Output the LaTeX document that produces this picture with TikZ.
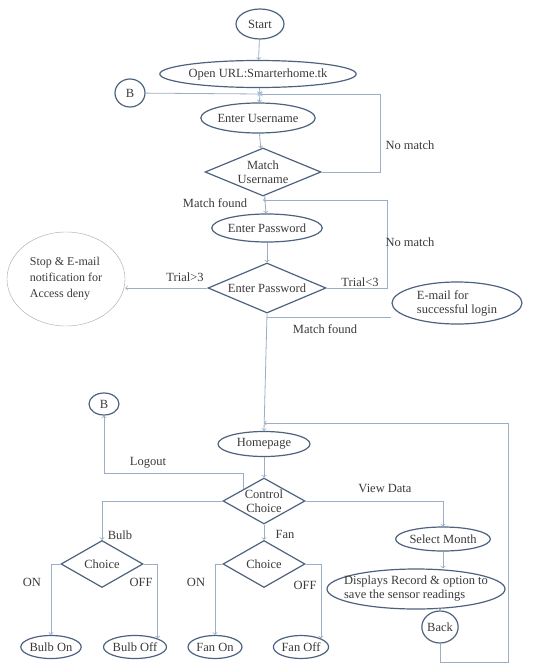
\documentclass[tikz,border=0pt]{standalone}
\usepackage{fontspec}
\setmainfont{Liberation Serif}
\usetikzlibrary{shapes.geometric}
\definecolor{lineblue}{HTML}{9AAEC6}
\definecolor{edgeblue}{HTML}{4D627E}
\definecolor{txtgray}{HTML}{3A3A3A}

\begin{document}
\begin{tikzpicture}[x=1pt,y=-1pt,
  oval/.style={ellipse,draw=edgeblue,line width=1.2pt,inner sep=0pt,text=txtgray,align=left,font=\fontsize{12.5}{14}\selectfont},
  dec/.style={diamond,draw=edgeblue,line width=1.2pt,inner sep=0pt,text=txtgray,align=center,font=\fontsize{12.5}{14}\selectfont},
  flow/.style={draw=lineblue,line width=0.8pt,->},
  lbl/.style={text=txtgray,font=\fontsize{12.5}{14}\selectfont}]

\useasboundingbox (0,0) rectangle (537,664);

\coordinate (j1) at (260,94);
\coordinate (nm1) at (380,94);
\coordinate (j2) at (263,200);
\coordinate (nm2) at (387,200);
\coordinate (j3) at (267,317);
\coordinate (j4) at (264,423);
\coordinate (lg) at (104,473);
\coordinate (r1) at (508,662);
\coordinate (r2) at (508,423);

\node[oval,minimum width=48,minimum height=30] (start) at (260,24) {Start};
\node[oval,minimum width=160,minimum height=27] (url) at (258,74) {Open URL:Smarterhome.tk};
\node[oval,minimum width=30,minimum height=28] (b1) at (130,93) {B};
\node[oval,minimum width=110,minimum height=30] (user) at (258,118) {Enter Username};
\node[dec,minimum width=116,minimum height=48,shape aspect=2.4] (mu) at (263,172) {Match\\Username};
\node[oval,minimum width=110,minimum height=28] (pw) at (267,228) {Enter Password};
\node[dec,minimum width=118,minimum height=50,shape aspect=2.4] (mp) at (267,288) {Enter Password};
\node[oval,draw=gray!70,line width=0.4pt,minimum width=118,minimum height=94,font=\fontsize{12}{16}\selectfont] (stop) at (66,279) {Stop \& E-mail\\notification for\\Access deny};
\node[oval,minimum width=130,minimum height=42] (mail) at (457,303) {E-mail for\\successful login};

\node[oval,minimum width=30,minimum height=22] (b2) at (104,404) {B};
\node[oval,minimum width=92,minimum height=25] (home) at (264,444) {Homepage};
\node[dec,minimum width=82,minimum height=46,shape aspect=1.8] (cc) at (264,501) {Control\\Choice};
\node[dec,minimum width=82,minimum height=47,shape aspect=1.8] (bc) at (102,564) {Choice};
\node[dec,minimum width=82,minimum height=47,shape aspect=1.8] (fc) at (264,564) {Choice};
\node[oval,minimum width=52,minimum height=23] (bon) at (51,647) {Bulb On};
\node[oval,minimum width=48,minimum height=23] (boff) at (135,647) {Bulb Off};
\node[oval,minimum width=54,minimum height=23] (fon) at (215,647) {Fan On};
\node[oval,minimum width=52,minimum height=23] (foff) at (301,647) {Fan Off};
\node[oval,minimum width=80,minimum height=24] (month) at (443,539) {Select Month};
\node[oval,inner xsep=-10pt,minimum width=178,minimum height=40] (disp) at (416,589) {Displays Record \& option to\\save the sensor readings};
\node[oval,minimum width=36,minimum height=32] (back) at (440,627) {Back};

\draw[flow] (start) -- (url);
\draw[flow] (url) -- (j1);
\draw[flow] (j1) -- (user);
\draw[flow] (b1) -- (j1);
\draw[flow] (mu.east) -| (nm1) -- (j1);
\draw[flow] (user) -- (mu);
\draw[flow] (mu) -- (pw);
\draw[flow] (pw) -- (mp);
\draw[flow] (mp.east) -| (nm2) -- (j2);
\draw[flow] (mp.west) -- (stop.east |- mp.west);
\draw[draw=lineblue,line width=0.8pt] (j3) -- (mail.west |- j3);
\draw[flow] (mp.south) -- (home.north);

\draw[flow] (home) -- (cc);
\draw[flow] (cc.north west) |- (lg) -- (b2);
\draw[flow] (cc.west) -| (bc.north);
\draw[flow] (cc) -- (fc);
\draw[flow] (cc.east) -| (month.north);
\draw[flow] (bc.west) -| (bon.north);
\draw[flow] (bc.east) -| (boff.north east);
\draw[flow] (fc.west) -| (fon.north);
\draw[flow] (fc.east) -| (foff.north east);
\draw[flow] (month.south) -- (month.south |- disp.north);
\draw[flow] (back.north |- disp.south) -- (back.north);
\draw[flow] (back.south) |- (r1) -- (r2) -- (j4);

\node[lbl] (l1) at (410,145) {No match};
\node[lbl] (l2) at (215,203) {Match found};
\node[lbl] (l3) at (410,242) {No match};
\node[lbl] (l4) at (185,277) {Trial>3};
\node[lbl] (l5) at (360,282) {Trial<3};
\node[lbl] (l6) at (325,329) {Match found};
\node[lbl] (l7) at (148,463) {Logout};
\node[lbl] (l8) at (385,488) {View Data};
\node[lbl] (l9) at (120,535) {Bulb};
\node[lbl] (l10) at (285,534) {Fan};
\node[lbl] (l11) at (32,582) {ON};
\node[lbl] (l12) at (141,582) {OFF};
\node[lbl] (l13) at (196,582) {ON};
\node[lbl] (l14) at (305,585) {OFF};

\end{tikzpicture}
\end{document}
